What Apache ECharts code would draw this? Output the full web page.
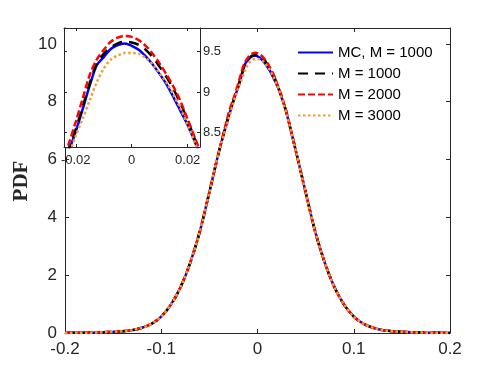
<!DOCTYPE html>
<html>
<head>
<meta charset="utf-8">
<script src="https://cdn.jsdelivr.net/npm/echarts@6/dist/echarts.min.js"></script>
<style>html,body{margin:0;padding:0;background:#fff;}#c{width:498px;height:374px;}</style>
</head>
<body>
<div id="c"></div>
<script>
// x positions (shared by all series)
const xVals = [-0.2,-0.19,-0.18,-0.17,-0.16,-0.15,-0.14,-0.13,-0.12,-0.11,-0.1,-0.09,-0.08,-0.07,-0.06,-0.05,-0.04,
  -0.03,-0.0275,-0.025,-0.0225,-0.02,-0.0175,-0.015,-0.0125,-0.01,-0.0075,-0.005,-0.0025,0,0.0025,0.005,0.0075,0.01,0.0125,0.015,0.0175,0.02,0.0225,0.025,0.0275,0.03,
  0.04,0.05,0.06,0.07,0.08,0.09,0.1,0.11,0.12,0.13,0.14,0.15,0.16,0.17,0.18,0.19,0.2];

const mcM1000 = [0.004,0.006,0.01,0.015,0.025,0.04,0.06,0.10,0.18,0.32,0.57,0.98,1.58,2.42,3.50,4.87,6.28,
  7.48,7.76,8.02,8.27,8.51,8.79,9.08,9.33,9.43,9.53,9.58,9.60,9.57,9.52,9.44,9.34,9.22,9.09,8.93,8.76,8.59,8.39,8.15,7.90,7.63,
  6.28,4.87,3.50,2.42,1.58,0.98,0.57,0.32,0.18,0.10,0.06,0.04,0.025,0.015,0.01,0.006,0.004];
const m1000 = [0.004,0.006,0.01,0.015,0.025,0.04,0.06,0.10,0.18,0.32,0.57,0.98,1.58,2.42,3.50,4.87,6.28,
  7.52,7.79,8.05,8.30,8.54,8.82,9.11,9.35,9.47,9.55,9.60,9.62,9.61,9.58,9.52,9.43,9.31,9.18,9.03,8.85,8.65,8.42,8.18,7.92,7.64,
  6.28,4.87,3.50,2.42,1.58,0.98,0.57,0.32,0.18,0.10,0.06,0.04,0.025,0.015,0.01,0.006,0.004];
const m2000 = [0.004,0.006,0.01,0.015,0.025,0.04,0.06,0.10,0.18,0.32,0.57,0.98,1.58,2.42,3.50,4.87,6.28,
  7.60,7.87,8.10,8.36,8.63,8.92,9.21,9.40,9.52,9.62,9.67,9.69,9.68,9.64,9.57,9.47,9.35,9.21,9.06,8.88,8.66,8.44,8.21,7.94,7.66,
  6.28,4.87,3.50,2.42,1.58,0.98,0.57,0.32,0.18,0.10,0.06,0.04,0.025,0.015,0.01,0.006,0.004];
const m3000 = [0.004,0.006,0.01,0.015,0.025,0.04,0.06,0.10,0.18,0.32,0.57,0.98,1.58,2.42,3.50,4.87,6.28,
  7.40,7.68,7.96,8.22,8.46,8.67,8.90,9.12,9.29,9.40,9.45,9.48,9.48,9.47,9.42,9.34,9.23,9.11,8.96,8.79,8.59,8.38,8.15,7.89,7.61,
  6.28,4.87,3.50,2.42,1.58,0.98,0.57,0.32,0.18,0.10,0.06,0.04,0.025,0.015,0.01,0.006,0.004];

const seriesNames = ['MC, M = 1000', 'M = 1000', 'M = 2000', 'M = 3000'];
const mainYTicks = [0, 2, 4, 6, 8, 10];
const insetXTicks = [-0.02, 0, 0.02];
const insetYTicks = [8.5, 9, 9.5];

const styles = [
  {color: '#0000ff', type: 'solid'},
  {color: '#000000', type: [10, 7]},
  {color: '#ff0000', type: [7, 3]},
  {color: '#EDA12B', type: [2.5, 2.5]}
];
const dataSets = [mcM1000, m1000, m2000, m3000];
const mk = ys => xVals.map((x, i) => [x, ys[i]]);

const axCol = '#262626';
const font = '"Liberation Sans", Arial, sans-serif';

function axisBase(extra) {
  return Object.assign({
    type: 'value',
    axisLine: {show: true, onZero: false, lineStyle: {color: axCol, width: 1}},
    axisTick: {show: true, inside: true, length: 4, lineStyle: {color: axCol}},
    splitLine: {show: false},
    axisLabel: {show: false}
  }, extra);
}

const series = [];
for (let k = 0; k < 4; k++) {
  const base = {
    type: 'line', name: seriesNames[k], data: mk(dataSets[k]),
    showSymbol: false, symbol: 'none', smooth: 0.3, clip: true,
    lineStyle: {color: styles[k].color, type: styles[k].type, width: 2.5, cap: 'butt'},
    itemStyle: {color: styles[k].color},
    z: 2 + k
  };
  series.push(Object.assign({}, base, {xAxisIndex: 0, yAxisIndex: 0}));
  series.push(Object.assign({}, base, {xAxisIndex: 2, yAxisIndex: 2, z: 10 + k}));
}

const chart = echarts.init(document.getElementById('c'), null, {renderer: 'canvas'});
chart.setOption({
  animation: false,
  backgroundColor: '#fff',
  grid: [
    {left: 65, right: 48, top: 28, bottom: 41, outerBoundsMode: 'none'},
    {left: 64, top: 28, width: 136, height: 119, show: true, backgroundColor: '#fff', borderWidth: 0, z: 5, outerBoundsMode: 'none'}
  ],
  xAxis: [
    axisBase({gridIndex: 0, position: 'bottom', min: -0.2, max: 0.2, interval: 0.1,
      axisLabel: {show: true, fontSize: 17, fontFamily: font, color: axCol, margin: 8}}),
    axisBase({gridIndex: 0, position: 'top', min: -0.2, max: 0.2, interval: 0.1}),
    axisBase({gridIndex: 1, position: 'bottom', min: -0.0242, max: 0.0244, z: 6,
      axisTick: {show: true, inside: true, length: 3, lineStyle: {color: axCol}, customValues: insetXTicks},
      axisLabel: {show: true, fontSize: 13, fontFamily: font, color: axCol, margin: 7, customValues: insetXTicks}}),
    axisBase({gridIndex: 1, position: 'top', min: -0.0242, max: 0.0244, z: 6,
      axisTick: {show: true, inside: true, length: 3, lineStyle: {color: axCol}, customValues: insetXTicks}})
  ],
  yAxis: [
    axisBase({gridIndex: 0, position: 'left', min: 0, max: 10.55,
      axisTick: {show: true, inside: true, length: 4, lineStyle: {color: axCol}, customValues: mainYTicks},
      axisLabel: {show: true, fontSize: 17, fontFamily: font, color: axCol, margin: 8, customValues: mainYTicks}}),
    axisBase({gridIndex: 0, position: 'right', min: 0, max: 10.55,
      axisTick: {show: true, inside: true, length: 4, lineStyle: {color: axCol}, customValues: mainYTicks}}),
    axisBase({gridIndex: 1, position: 'right', min: 8.32, max: 9.79, z: 6,
      axisTick: {show: true, inside: true, length: 3, lineStyle: {color: axCol}, customValues: insetYTicks},
      axisLabel: {show: true, fontSize: 13, fontFamily: font, color: axCol, margin: 3, customValues: insetYTicks}}),
    axisBase({gridIndex: 1, position: 'left', min: 8.32, max: 9.79, z: 6,
      axisTick: {show: true, inside: true, length: 3, lineStyle: {color: axCol}, customValues: insetYTicks}})
  ],
  legend: {
    data: seriesNames,
    orient: 'vertical',
    left: 297, top: 45,
    padding: 0,
    itemWidth: 35, itemHeight: 14, itemGap: 6,
    textStyle: {fontSize: 15, fontFamily: font, color: '#000', padding: [0, 0, 0, 0]},
    itemStyle: {color: 'rgba(0,0,0,0)', borderColor: 'rgba(0,0,0,0)', borderWidth: 0}
  },
  graphic: [{
    type: 'text', x: 22, y: 181, rotation: Math.PI / 2,
    style: {text: 'PDF', font: 'bold 21px "Liberation Serif", "Times New Roman", serif', fill: axCol, align: 'center', verticalAlign: 'middle'}
  }],
  series: series
});
</script>
</body>
</html>
